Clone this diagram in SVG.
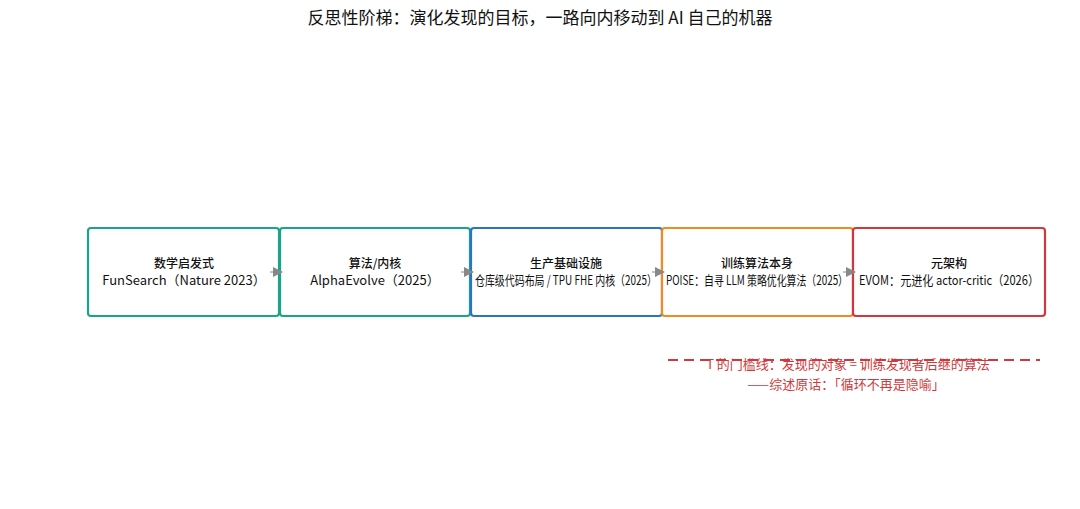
<svg xmlns="http://www.w3.org/2000/svg" width="1080" height="509" viewBox="0 0 1080 509">
<defs>
<style>
text{font-family:"Noto Sans CJK SC","Noto Sans",sans-serif;text-anchor:middle;fill:#111}
.box{fill:#fff;stroke-width:2.2}
.t1{font-size:12px;font-weight:500}
.t2{font-size:13px}
.red{fill:#d0393b;font-size:13px}
</style>
<marker id="ah" markerWidth="10" markerHeight="10" refX="9" refY="5" orient="auto" markerUnits="userSpaceOnUse"><path d="M0,0 L10,5 L0,10 Z" fill="#888"/></marker>
</defs>
<rect width="1080" height="509" fill="#fff"/>
<text x="540" y="24" style="font-size:17px">反思性阶梯：演化发现的目标，一路向内移动到 AI 自己的机器</text>
<g id="n1"><rect class="box" x="88" y="228" width="191" height="88" rx="3" stroke="#1aa58a"/><text class="t1" x="184" y="268">数学启发式</text><text class="t2" x="184" y="285">FunSearch（Nature 2023）</text></g>
<g id="n2"><rect class="box" x="280" y="228" width="190" height="88" rx="3" stroke="#1aa58a"/><text class="t1" x="375" y="268">算法/内核</text><text class="t2" x="375" y="285">AlphaEvolve（2025）</text></g>
<g id="n3"><rect class="box" x="471" y="228" width="191" height="88" rx="3" stroke="#2f72c2"/><text class="t1" x="566" y="268">生产基础设施</text><text class="t2" x="566" y="285" textLength="182" lengthAdjust="spacingAndGlyphs">仓库级代码布局 / TPU FHE 内核（2025）</text></g>
<g id="n4"><rect class="box" x="662" y="228" width="191" height="88" rx="3" stroke="#ee8c22"/><text class="t1" x="757" y="268">训练算法本身</text><text class="t2" x="757" y="285" textLength="182" lengthAdjust="spacingAndGlyphs">POISE：自寻 LLM 策略优化算法（2025）</text></g>
<g id="n5"><rect class="box" x="853" y="228" width="192" height="88" rx="3" stroke="#d0393b"/><text class="t1" x="949" y="268">元架构</text><text class="t2" x="949" y="285" textLength="180" lengthAdjust="spacingAndGlyphs">EVOM：元进化 actor-critic（2026）</text></g>
<g id="connectors" stroke="#888" stroke-width="1">
<line x1="270" y1="272" x2="282" y2="272" marker-end="url(#ah)"/>
<line x1="461" y1="272" x2="473" y2="272" marker-end="url(#ah)"/>
<line x1="652" y1="272" x2="664" y2="272" marker-end="url(#ah)"/>
<line x1="843" y1="272" x2="855" y2="272" marker-end="url(#ah)"/>
</g>
<g id="threshold">
<line x1="668" y1="360" x2="1040" y2="360" stroke="#d0393b" stroke-width="2" stroke-dasharray="10,6"/>
<text class="red" x="848" y="369">T 的门槛线：发现的对象 = 训练发现者后继的算法</text>
<text class="red" x="846" y="389">——综述原话：「循环不再是隐喻」</text>
</g>
</svg>
